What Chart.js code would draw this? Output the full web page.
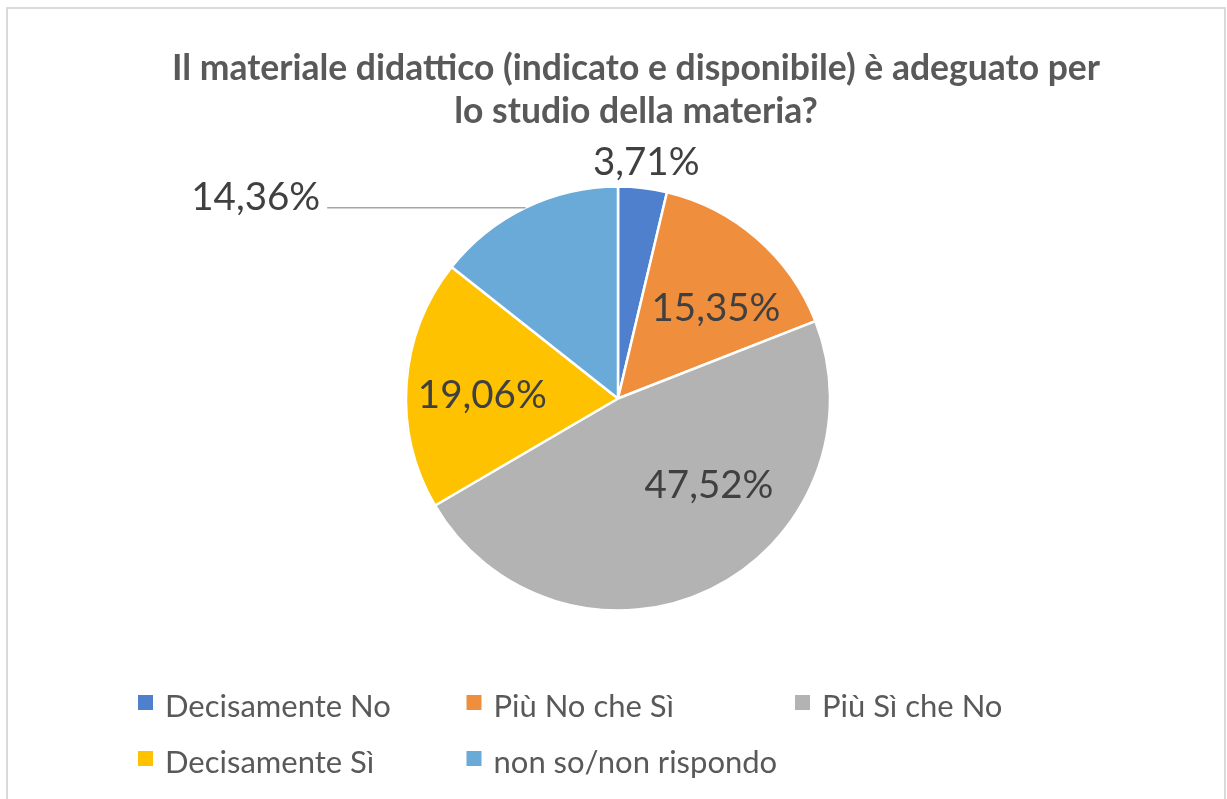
<!DOCTYPE html>
<html>
<head>
<meta charset="utf-8">
<script src="https://cdn.jsdelivr.net/npm/chart.js@4.4.1/dist/chart.umd.min.js"></script>
<style>
html,body{margin:0;padding:0;background:#fff;overflow:hidden}
#wrap{position:relative;width:1227px;height:799px}
canvas{display:block}
</style>
</head>
<body>
<div id="wrap"><canvas id="c" width="1227" height="799"></canvas></div>
<script>
// ---- data ----
const titleLines = ['Il materiale didattico (indicato e disponibile) è adeguato per', 'lo studio della materia?'];
const categories = ['Decisamente No', 'Più No che Sì', 'Più Sì che No', 'Decisamente Sì', 'non so/non rispondo'];
const values = [3.71, 15.35, 47.52, 19.06, 14.36];

// ---- styles ----
const sliceColors = ['#4F80CE', '#EF8F3E', '#B3B3B3', '#FEC200', '#6AAAD9'];
const FONT = 'Lato, "Open Sans", sans-serif';

// label centre offsets in units of the pie radius (relative to pie centre)
const labelOffsets = [[0.133, -1.116], [0.462, -0.427], [0.429, 0.405], [-0.640, -0.017], [-1.709, -0.955]];
const leaderLines = [false, false, false, false, true];

function fmt(v) { return v.toFixed(2).replace('.', ',') + '%'; }

const decorPlugin = {
  id: 'decor',
  beforeDraw(chart) {
    const ctx = chart.ctx;
    ctx.save();
    ctx.fillStyle = '#fff';
    ctx.fillRect(0, 0, chart.width, chart.height);
    ctx.strokeStyle = '#DADADA';
    ctx.lineWidth = 2;
    ctx.strokeRect(7, 8, 1218, 820);
    ctx.restore();
  },
  afterDraw(chart) {
    const ctx = chart.ctx;
    ctx.save();
    // title
    ctx.fillStyle = '#595959';
    ctx.font = 'bold 35.5px ' + FONT;
    ctx.textAlign = 'center';
    ctx.textBaseline = 'alphabetic';
    ctx.fillText(titleLines[0], 636, 80);
    ctx.fillText(titleLines[1], 636, 123);

    // data labels
    const meta = chart.getDatasetMeta(0);
    const ds = chart.data.datasets[0];
    ctx.font = '38.5px ' + FONT;
    ctx.fillStyle = '#404040';
    meta.data.forEach((arc, i) => {
      const p = arc.getProps(['x', 'y', 'outerRadius', 'startAngle', 'endAngle']);
      const r = p.outerRadius;
      const cx = p.x + labelOffsets[i][0] * r;
      const cy = p.y + labelOffsets[i][1] * r;
      const txt = fmt(ds.data[i]);
      ctx.textAlign = 'center';
      ctx.fillText(txt, cx, cy + 13.5);
      if (leaderLines[i]) {
        const mid = (p.startAngle + p.endAngle) / 2;
        const ex = p.x + Math.cos(mid) * r;
        const ey = p.y + Math.sin(mid) * r;
        const w = ctx.measureText(txt).width;
        ctx.strokeStyle = '#A6A6A6';
        ctx.lineWidth = 1.5;
        ctx.beginPath();
        ctx.moveTo(cx + w / 2 + 7, ey);
        ctx.lineTo(ex, ey);
        ctx.stroke();
      }
    });

    // legend
    ctx.font = '31px ' + FONT;
    ctx.textAlign = 'left';
    ctx.fillStyle = '#595959';
    const colX = [138, 466.5, 795];
    const rowY = [717, 773];
    chart.data.labels.forEach((lab, i) => {
      const col = i % 3, row = Math.floor(i / 3);
      const x = colX[col], y = rowY[row];
      ctx.fillStyle = ds.backgroundColor[i];
      ctx.fillRect(x, y - 22, 15, 15);
      ctx.fillStyle = '#595959';
      ctx.fillText(lab, x + 27, y);
    });
    ctx.restore();
  }
};

new Chart(document.getElementById('c'), {
  type: 'pie',
  data: {
    labels: categories,
    datasets: [{
      data: values,
      backgroundColor: sliceColors,
      borderColor: '#ffffff',
      borderWidth: 2.5,
      radius: 212
    }]
  },
  options: {
    responsive: false,
    animation: false,
    layout: { padding: { left: 407, right: 398, top: 188, bottom: 190 } },
    plugins: {
      legend: { display: false },
      title: { display: false },
      tooltip: { enabled: false }
    }
  },
  plugins: [decorPlugin]
});
</script>
</body>
</html>
